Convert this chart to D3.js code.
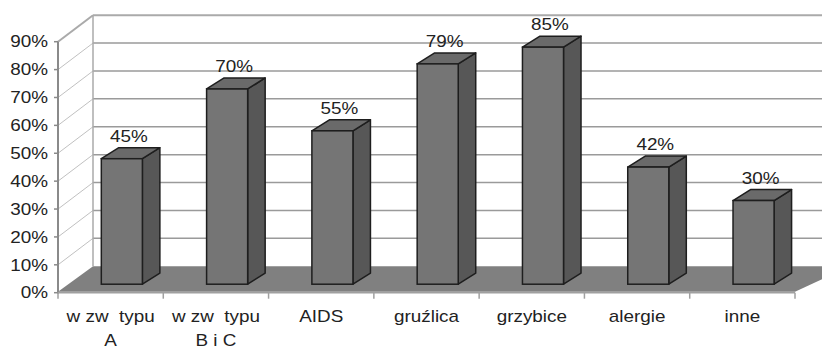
<!DOCTYPE html>
<html>
<head>
<meta charset="utf-8">
<script src="https://cdn.jsdelivr.net/npm/d3@7"></script>
<style>
  html, body { margin: 0; padding: 0; background: #fff; }
  svg { display: block; }
  text { font-family: "Liberation Sans", Arial, sans-serif; fill: #222; }
</style>
</head>
<body>
<svg id="chart" width="822" height="349"></svg>
<script>
// ---- data ----
const categories = ["w zw  typu|A", "w zw  typu|B i C", "AIDS", "gruźlica", "grzybice", "alergie", "inne"];
const values = [0.45, 0.70, 0.55, 0.79, 0.85, 0.42, 0.30];
const valueLabels = ["45%", "70%", "55%", "79%", "85%", "42%", "30%"];
const tickValues = [0, 0.1, 0.2, 0.3, 0.4, 0.5, 0.6, 0.7, 0.8, 0.9];

// ---- layout ----
const W = 822, H = 349;
const left = 58, right = 795, y0 = 292.7, yTop = 41.7;
const depthX = 35, depthY = 26.5;       // wall depth offset
const barShiftX = 11.2, barShiftY = 8.5; // bar front plane offset
const sideX = 17.5, sideY = 11;          // bar depth
const sx = 1.18;                         // horizontal text stretch

const svg = d3.select("#chart");
const x = d3.scaleBand().domain(d3.range(categories.length)).range([left, right]).padding(0);
const y = d3.scaleLinear().domain([0, 0.9]).range([y0, yTop]);

// floor
svg.append("polygon")
  .attr("points", [[left, y0 - 1], [left + depthX, y0 - depthY], [right + depthX + 20, y0 - depthY], [right, y0 - 1]].map(p => p.join(",")).join(" "))
  .attr("fill", "#808080");

// back wall gridlines
svg.append("g").selectAll("line").data(tickValues.filter(v => v > 0)).join("line")
  .attr("x1", left + depthX).attr("x2", W)
  .attr("y1", d => y(d) - depthY).attr("y2", d => y(d) - depthY)
  .attr("stroke", d => d === 0.9 ? "#aaa" : "#9a9a9a")
  .attr("stroke-width", d => d === 0.9 ? 2 : 1.5);

// left wall diagonals
svg.append("g").selectAll("line").data(tickValues.filter(v => v > 0)).join("line")
  .attr("x1", left).attr("x2", left + depthX)
  .attr("y1", d => y(d)).attr("y2", d => y(d) - depthY)
  .attr("stroke", d => d === 0.9 ? "#aaa" : "#b0b0b0")
  .attr("stroke-width", d => d === 0.9 ? 2 : 0.8);

// left wall back edge
svg.append("line")
  .attr("x1", left + depthX).attr("x2", left + depthX)
  .attr("y1", y(0.9) - depthY).attr("y2", y0 - depthY)
  .attr("stroke", "#aaa").attr("stroke-width", 1.5);

// left axis
svg.append("line")
  .attr("x1", left).attr("x2", left).attr("y1", y(0.9)).attr("y2", y0 + 1)
  .attr("stroke", "#8a8a8a").attr("stroke-width", 2);
svg.append("g").selectAll("line").data(tickValues).join("line")
  .attr("x1", left - 4).attr("x2", left)
  .attr("y1", d => y(d)).attr("y2", d => y(d))
  .attr("stroke", "#8a8a8a").attr("stroke-width", 1.5);

// y tick labels
svg.append("g").selectAll("text").data(tickValues).join("text")
  .attr("transform", d => `translate(48,${y(d) + 5.7}) scale(${sx},1)`)
  .attr("text-anchor", "end")
  .attr("font-size", 16)
  .text(d => Math.round(d * 100) + "%");

// bottom axis
svg.append("line")
  .attr("x1", left).attr("x2", right).attr("y1", y0).attr("y2", y0)
  .attr("stroke", "#a0a0a0").attr("stroke-width", 1.5);
svg.append("g").selectAll("line").data(d3.range(categories.length + 1)).join("line")
  .attr("x1", i => left + i * x.bandwidth()).attr("x2", i => left + i * x.bandwidth())
  .attr("y1", y0).attr("y2", y0 + 6)
  .attr("stroke", "#a0a0a0").attr("stroke-width", 1.5);

// bars
const bw = x.bandwidth() * 0.39;
const bars = svg.append("g").selectAll("g").data(values).join("g");
bars.each(function (v, i) {
  const g = d3.select(this);
  const fx0 = x(i) + (x.bandwidth() - bw) / 2 + barShiftX;
  const fx1 = fx0 + bw;
  const fyB = y0 - barShiftY;
  const fyT = y(v) - barShiftY;
  // side
  g.append("polygon")
    .attr("points", [[fx1, fyT], [fx1 + sideX, fyT - sideY], [fx1 + sideX, fyB - sideY], [fx1, fyB]].map(p => p.join(",")).join(" "))
    .attr("fill", "#575757").attr("stroke", "#1e1e1e").attr("stroke-width", 1.5).attr("stroke-linejoin", "round");
  // top
  g.append("polygon")
    .attr("points", [[fx0, fyT], [fx0 + sideX, fyT - sideY], [fx1 + sideX, fyT - sideY], [fx1, fyT]].map(p => p.join(",")).join(" "))
    .attr("fill", "#6a6a6a").attr("stroke", "#1e1e1e").attr("stroke-width", 1.5).attr("stroke-linejoin", "round");
  // front
  g.append("rect")
    .attr("x", fx0).attr("y", fyT).attr("width", bw).attr("height", fyB - fyT)
    .attr("fill", "#757575").attr("stroke", "#1e1e1e").attr("stroke-width", 1.5);
  // value label
  g.append("text")
    .attr("transform", `translate(${(fx0 + fx1) / 2 + 7},${fyT - 17}) scale(${sx},1)`)
    .attr("text-anchor", "middle")
    .attr("font-size", 16)
    .text(valueLabels[i]);
});

// category labels
svg.append("g").selectAll("text").data(categories).join("text")
  .attr("text-anchor", "middle")
  .attr("font-size", 16)
  .attr("transform", (d, i) => `translate(${x(i) + x.bandwidth() / 2},321.7) scale(${sx},1)`)
  .style("white-space", "pre")
  .each(function (d) {
    const t = d3.select(this);
    d.split("|").forEach((line, k) => {
      t.append("tspan").attr("x", 0).attr("dy", k === 0 ? 0 : 24).text(line);
    });
  });
</script>
</body>
</html>
